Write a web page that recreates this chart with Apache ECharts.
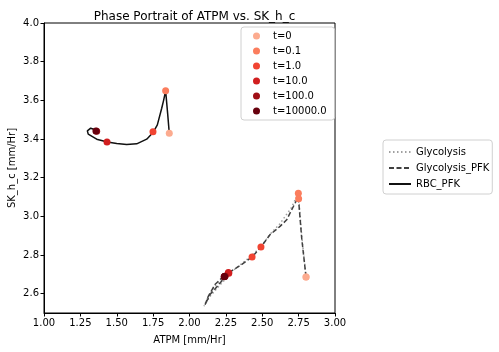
<!DOCTYPE html>
<html>
<head>
<meta charset="utf-8">
<script src="https://cdn.jsdelivr.net/npm/echarts@6/dist/echarts.min.js"></script>
<style>
  html, body { margin: 0; padding: 0; background: #fff; }
  #chart { width: 499px; height: 352px; }
</style>
</head>
<body>
<div id="chart"></div>
<script>
// trajectories (ATPM, SK_h_c)
var rbcX = [1.861, 1.850, 1.836, 1.822, 1.809, 1.779, 1.751, 1.706, 1.637, 1.568, 1.500, 1.435, 1.362, 1.304, 1.298, 1.321, 1.357];
var rbcY = [3.430, 3.530, 3.649, 3.600, 3.559, 3.473, 3.435, 3.399, 3.375, 3.371, 3.377, 3.384, 3.399, 3.425, 3.442, 3.456, 3.447];

var glyX = [2.801, 2.771, 2.748, 2.700, 2.620, 2.550, 2.491, 2.400, 2.300, 2.210, 2.140, 2.100, 2.120, 2.170, 2.244];
var glyY = [2.686, 2.900, 3.120, 3.045, 2.960, 2.905, 2.841, 2.780, 2.720, 2.645, 2.585, 2.535, 2.570, 2.635, 2.690];

var pfkX = [2.801, 2.771, 2.748, 2.714, 2.668, 2.622, 2.553, 2.491, 2.430, 2.347, 2.267, 2.210, 2.141, 2.107, 2.129, 2.175, 2.221, 2.244];
var pfkY = [2.686, 2.888, 3.100, 3.051, 2.982, 2.948, 2.905, 2.841, 2.790, 2.745, 2.707, 2.655, 2.595, 2.543, 2.586, 2.647, 2.681, 2.690];

// time markers: [RBC_PFK, Glycolysis, Glycolysis_PFK] for each time
var times = ['t=0', 't=0.1', 't=1.0', 't=10.0', 't=100.0', 't=10000.0'];
var timeColors = ['#fcab8f', '#fb7d5d', '#f14432', '#d11e1f', '#a00f15', '#67000d'];
var markX = [
  [1.861, 2.801, 2.801],
  [1.836, 2.748, 2.750],
  [1.749, 2.491, 2.430],
  [1.433, 2.270, 2.267],
  [1.362, 2.244, 2.244],
  [1.357, 2.238, 2.240]
];
var markY = [
  [3.430, 2.686, 2.686],
  [3.649, 3.120, 3.091],
  [3.437, 2.841, 2.790],
  [3.385, 2.706, 2.710],
  [3.440, 2.690, 2.690],
  [3.442, 2.688, 2.689]
];

var xTicks = [1.00, 1.25, 1.50, 1.75, 2.00, 2.25, 2.50, 2.75, 3.00];
var yTicks = [2.6, 2.8, 3.0, 3.2, 3.4, 3.6, 3.8, 4.0];

function pairs(xs, ys) {
  return xs.map(function (x, i) { return [x, ys[i]]; });
}

var font = 'DejaVu Sans';
var chart = echarts.init(document.getElementById('chart'));

var series = [
  {
    name: 'Glycolysis', type: 'line', data: pairs(glyX, glyY), symbol: 'none',
    lineStyle: { color: '#a0a0a0', width: 1.5, type: [1.5, 2.5] }, itemStyle: { color: '#a0a0a0' },
    z: 2
  },
  {
    name: 'Glycolysis_PFK', type: 'line', data: pairs(pfkX, pfkY), symbol: 'none',
    lineStyle: { color: '#404040', width: 1.5, type: [5, 2.5] }, itemStyle: { color: '#404040' },
    z: 3
  },
  {
    name: 'RBC_PFK', type: 'line', data: pairs(rbcX, rbcY), symbol: 'none',
    lineStyle: { color: '#111', width: 1.5 }, itemStyle: { color: '#111' },
    z: 4
  }
];
times.forEach(function (t, i) {
  series.push({
    name: t, type: 'scatter', symbol: 'circle', symbolSize: 7,
    data: pairs(markX[i], markY[i]),
    itemStyle: { color: timeColors[i], opacity: 1 },
    z: 5 + i
  });
});

var option = {
  animation: false,
  backgroundColor: '#fff',
  textStyle: { fontFamily: font },
  title: {
    text: 'Phase Portrait of ATPM vs. SK_h_c',
    left: 189.5, top: 6, textAlign: 'center',
    textStyle: { fontFamily: font, fontSize: 12, fontWeight: 'normal', color: '#000' }
  },
  grid: {
    left: 44, top: 23, right: 164, bottom: 39,
    containLabel: false, outerBoundsMode: 'none',
    show: true, borderColor: '#000', borderWidth: 1
  },
  legend: [
    {
      data: times.map(function (t) { return { name: t, icon: 'circle' }; }),
      orient: 'vertical', left: 241, top: 27,
      itemWidth: 7, itemHeight: 7, itemGap: 5,
      padding: [4, 8, 4, 12],
      borderColor: '#d0d0d0', borderWidth: 1, borderRadius: 3,
      textStyle: { fontFamily: font, fontSize: 10, color: '#000', padding: [0, 0, 0, 8] }
    },
    {
      data: ['Glycolysis', 'Glycolysis_PFK', 'RBC_PFK'],
      orient: 'vertical', left: 383, top: 140,
      itemWidth: 22, itemHeight: 8, itemGap: 6,
      padding: [7, 3, 5, 5],
      borderColor: '#d0d0d0', borderWidth: 1, borderRadius: 3,
      itemStyle: { color: 'transparent', borderColor: 'transparent', borderWidth: 0, opacity: 0 },
      textStyle: { fontFamily: font, fontSize: 10, color: '#000', padding: [0, 0, 0, 0] }
    }
  ],
  xAxis: {
    type: 'value', min: 1, max: 3, interval: 0.25,
    name: 'ATPM [mm/Hr]', nameLocation: 'middle', nameGap: 22, nameMoveOverlap: false,
    nameTextStyle: { fontFamily: font, fontSize: 10, color: '#000' },
    axisLine: { show: true, lineStyle: { color: '#000' } },
    axisTick: { show: true, inside: false, length: 3.5, lineStyle: { color: '#000' } },
    axisLabel: {
      fontFamily: font, fontSize: 10, color: '#000', margin: 5,
      formatter: function (v) { return v.toFixed(2); }
    },
    splitLine: { show: false }
  },
  yAxis: {
    type: 'value', min: 2.5, max: 4.0,
    name: 'SK_h_c [mm/Hr]', nameLocation: 'middle', nameGap: 27, nameMoveOverlap: false,
    nameTextStyle: { fontFamily: font, fontSize: 10, color: '#000' },
    axisLine: { show: true, lineStyle: { color: '#000' } },
    axisTick: { show: true, inside: false, length: 3.5, customValues: yTicks, lineStyle: { color: '#000' } },
    axisLabel: {
      fontFamily: font, fontSize: 10, color: '#000', margin: 5, customValues: yTicks,
      formatter: function (v) { return v.toFixed(1); }
    },
    splitLine: { show: false }
  },
  series: series
};
chart.setOption(option);
</script>
</body>
</html>
